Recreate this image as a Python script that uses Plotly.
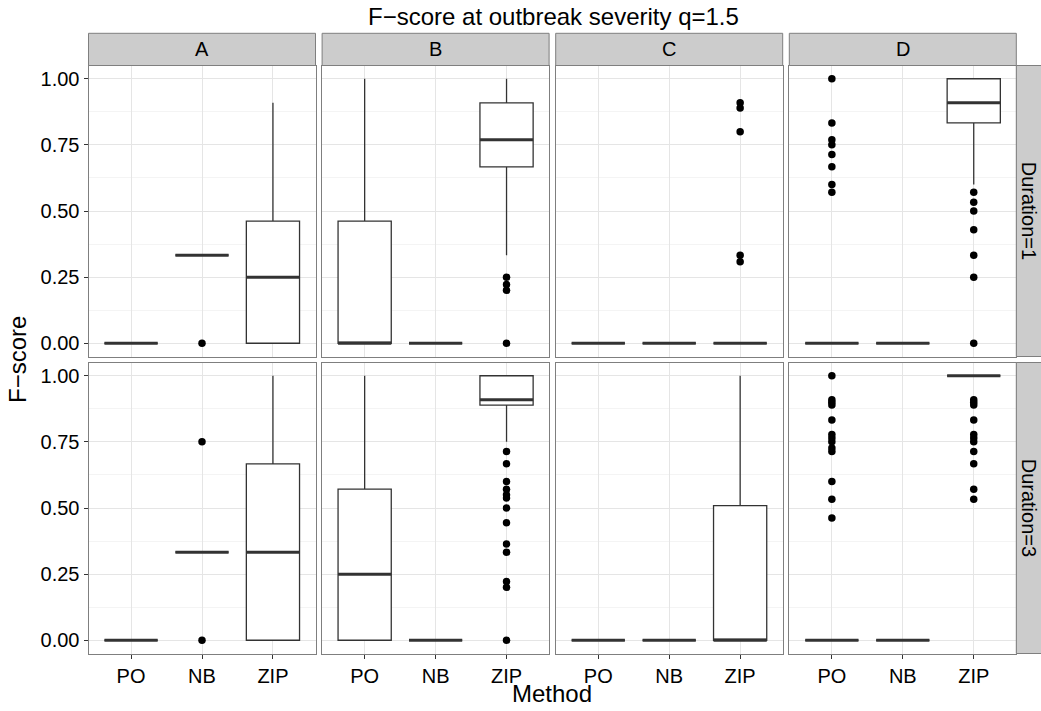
import plotly.graph_objects as go

# ---------------- data ----------------
methods = ["PO", "NB", "ZIP"]
scenarios = ["A", "B", "C", "D"]
durations = ["Duration=1", "Duration=3"]

# box statistics, [duration][scenario][method]
q1_vals = [
    [[0, 0.333, 0], [0, 0, 0.667], [0, 0, 0], [0, 0, 0.833]],
    [[0, 0.333, 0], [0, 0, 0.889], [0, 0, 0], [0, 0, 1.0]],
]
median_vals = [
    [[0, 0.333, 0.25], [0, 0, 0.769], [0, 0, 0], [0, 0, 0.909]],
    [[0, 0.333, 0.333], [0.25, 0, 0.909], [0, 0, 0], [0, 0, 1.0]],
]
q3_vals = [
    [[0, 0.333, 0.462], [0.462, 0, 0.909], [0, 0, 0], [0, 0, 1.0]],
    [[0, 0.333, 0.667], [0.571, 0, 1.0], [0, 0, 0.509], [0, 0, 1.0]],
]
lower_vals = [
    [[0, 0.333, 0], [0, 0, 0.333], [0, 0, 0], [0, 0, 0.6]],
    [[0, 0.333, 0], [0, 0, 0.75], [0, 0, 0], [0, 0, 1.0]],
]
upper_vals = [
    [[0, 0.333, 0.909], [1.0, 0, 1.0], [0, 0, 0], [0, 0, 1.0]],
    [[0, 0.333, 1.0], [1.0, 0, 1.0], [0, 0, 1.0], [0, 0, 1.0]],
]

# outliers: (duration index, scenario, method) -> values
outliers = {
    (0, "A", "NB"): [0.0],
    (0, "B", "ZIP"): [0.25, 0.222, 0.2, 0.0],
    (0, "C", "ZIP"): [0.909, 0.889, 0.8, 0.333, 0.308],
    (0, "D", "PO"): [1.0, 0.833, 0.769, 0.75, 0.714, 0.667, 0.6, 0.571],
    (0, "D", "ZIP"): [0.571, 0.533, 0.5, 0.429, 0.333, 0.25, 0.0],
    (1, "A", "NB"): [0.75, 0.0],
    (1, "B", "ZIP"): [0.714, 0.667, 0.6, 0.571, 0.55, 0.538, 0.5, 0.444,
                      0.364, 0.333, 0.222, 0.2, 0.0],
    (1, "D", "PO"): [1.0, 0.909, 0.9, 0.889, 0.833, 0.778, 0.765, 0.75,
                     0.727, 0.714, 0.6, 0.533, 0.462],
    (1, "D", "ZIP"): [0.909, 0.9, 0.889, 0.833, 0.778, 0.765, 0.75, 0.714,
                      0.667, 0.571, 0.533],
}

y_ticks = [0, 0.25, 0.5, 0.75, 1.0]
y_minor = [0.125, 0.375, 0.625, 0.875]

# ---------------- layout geometry ----------------
W, H = 1041, 711
FONT = "Liberation Sans, Arial, Helvetica, sans-serif"
BOX_W = 0.75
LINE_C = "#333333"
BORDER_C = "#7f7f7f"

col_left = [88.5, 322.1, 555.7, 789.3]
col_w = 227.0
row_top = [65.5, 362.5]
row_h = 291.0
strip_top = 33.3
strip_right_x0 = col_left[-1] + col_w


def px_x(v):
    return v / W


def px_y(v):
    return 1 - v / H


fig = go.Figure()
layout = {}
shapes = []
annotations = []
xpos = [1, 2, 3]

for r in range(2):
    for c, sc in enumerate(scenarios):
        k = r * 4 + c + 1
        xa = "x" if k == 1 else f"x{k}"
        ya = "y" if k == 1 else f"y{k}"

        q1 = q1_vals[r][c]
        md = median_vals[r][c]
        q3 = q3_vals[r][c]
        lo = lower_vals[r][c]
        hi = upper_vals[r][c]

        fig.add_trace(go.Box(
            x=xpos, q1=q1, median=md, q3=q3, lowerfence=lo, upperfence=hi,
            width=BOX_W, whiskerwidth=0, fillcolor="white",
            line=dict(color=LINE_C, width=1.3), boxpoints=False,
            xaxis=xa, yaxis=ya, showlegend=False, hoverinfo="skip",
        ))

        # thick median segments
        mx, my = [], []
        for i, m in enumerate(md):
            mx += [xpos[i] - BOX_W / 2, xpos[i] + BOX_W / 2, None]
            my += [m, m, None]
        fig.add_trace(go.Scatter(
            x=mx, y=my, mode="lines", line=dict(color=LINE_C, width=3),
            xaxis=xa, yaxis=ya, showlegend=False, hoverinfo="skip",
        ))

        # outliers
        ox, oy = [], []
        for i, m in enumerate(methods):
            vals = outliers.get((r, sc, m), [])
            ox += [xpos[i]] * len(vals)
            oy += vals
        if ox:
            fig.add_trace(go.Scatter(
                x=ox, y=oy, mode="markers",
                marker=dict(color="black", size=7.5),
                xaxis=xa, yaxis=ya, showlegend=False, hoverinfo="skip",
            ))

        x0 = col_left[c]
        x1 = x0 + col_w
        y0 = row_top[r]
        y1 = y0 + row_h

        bottom = r == 1
        left = c == 0
        layout["xaxis" if k == 1 else f"xaxis{k}"] = dict(
            domain=[px_x(x0), px_x(x1)], anchor=ya,
            range=[0.4, 3.6], tickvals=xpos, ticktext=methods,
            showgrid=True, gridcolor="#e5e5e5", gridwidth=1, zeroline=False,
            showline=True, mirror=True, linecolor=BORDER_C, linewidth=1,
            ticks="outside" if bottom else "", ticklen=4, tickwidth=1,
            tickcolor="#333333", showticklabels=bottom,
            tickfont=dict(family=FONT, size=20, color="black"),
        )
        layout["yaxis" if k == 1 else f"yaxis{k}"] = dict(
            domain=[px_y(y1), px_y(y0)], anchor=xa,
            range=[-0.05, 1.05], tickvals=y_ticks, tickformat=".2f",
            showgrid=True, gridcolor="#e5e5e5", gridwidth=1, zeroline=False,
            minor=dict(tickvals=y_minor, showgrid=True, gridcolor="#f4f4f4",
                       gridwidth=1, ticks=""),
            showline=True, mirror=True, linecolor=BORDER_C, linewidth=1,
            ticks="outside" if left else "", ticklen=4, tickwidth=1,
            tickcolor="#333333", showticklabels=left,
            tickfont=dict(family=FONT, size=20, color="black"),
        )

# top strips
for c, sc in enumerate(scenarios):
    x0 = col_left[c]
    x1 = x0 + col_w
    shapes.append(dict(type="rect", xref="paper", yref="paper",
                       x0=px_x(x0), x1=px_x(x1), y0=px_y(row_top[0]), y1=px_y(strip_top),
                       fillcolor="#cccccc", line=dict(color=BORDER_C, width=1)))
    annotations.append(dict(text=sc, xref="paper", yref="paper",
                            x=px_x((x0 + x1) / 2), y=px_y((strip_top + row_top[0]) / 2),
                            showarrow=False, xanchor="center", yanchor="middle",
                            font=dict(family=FONT, size=20, color="black")))

# right strips
for r, d in enumerate(durations):
    y0 = row_top[r]
    y1 = y0 + row_h
    shapes.append(dict(type="rect", xref="paper", yref="paper",
                       x0=px_x(strip_right_x0), x1=px_x(W + 5), y0=px_y(y1), y1=px_y(y0),
                       fillcolor="#cccccc", line=dict(color=BORDER_C, width=1)))
    annotations.append(dict(text=d, xref="paper", yref="paper",
                            x=px_x(strip_right_x0 + 13), y=px_y((y0 + y1) / 2),
                            showarrow=False, textangle=90, xanchor="center", yanchor="middle",
                            font=dict(family=FONT, size=20, color="black")))

# titles
annotations.append(dict(text="F\u2212score at outbreak severity q=1.5", xref="paper", yref="paper",
                        x=px_x(553), y=px_y(17), showarrow=False,
                        xanchor="center", yanchor="middle",
                        font=dict(family=FONT, size=24, color="black")))
annotations.append(dict(text="Method", xref="paper", yref="paper",
                        x=px_x(552), y=px_y(693), showarrow=False,
                        xanchor="center", yanchor="middle",
                        font=dict(family=FONT, size=24, color="black")))
annotations.append(dict(text="F\u2212score", xref="paper", yref="paper",
                        x=px_x(17), y=px_y(360), showarrow=False, textangle=-90,
                        xanchor="center", yanchor="middle",
                        font=dict(family=FONT, size=24, color="black")))

fig.update_layout(
    width=W, height=H,
    margin=dict(l=0, r=0, t=0, b=0),
    paper_bgcolor="white", plot_bgcolor="white",
    shapes=shapes, annotations=annotations,
    showlegend=False,
    **layout,
)

fig.write_html(
    "out.html",
    config={"displayModeBar": False, "staticPlot": True},
    post_script="document.body.style.margin='0';document.body.style.padding='0';"
                "document.body.style.overflow='hidden';",
)
